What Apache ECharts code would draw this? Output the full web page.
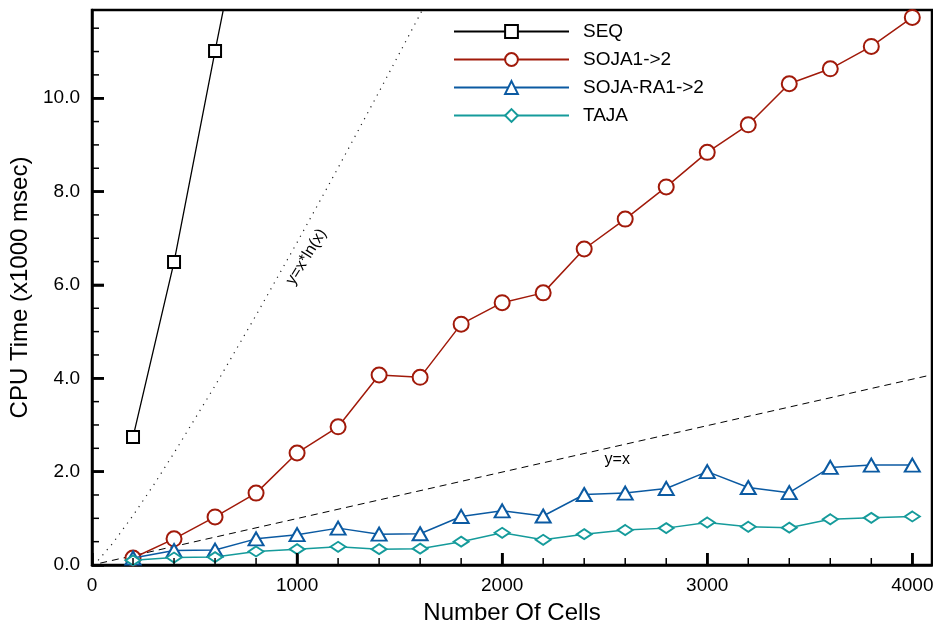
<!DOCTYPE html>
<html>
<head>
<meta charset="utf-8">
<script src="https://cdn.jsdelivr.net/npm/echarts@6/dist/echarts.min.js"></script>
<style>html,body{margin:0;padding:0;background:#fff;}#c{width:933px;height:627px;}</style>
</head>
<body>
<div id="c"></div>
<script>
// ---- data ----
var cells = [200,400,600,800,1000,1200,1400,1600,1800,2000,2200,2400,2600,2800,3000,3200,3400,3600,3800,4000];
var seqCells = [200,400,600,800];
var seqVals = [2.74,6.49,11.01,15.4];
var sojaVals = [0.15,0.56,1.03,1.54,2.40,2.96,4.07,4.02,5.16,5.62,5.83,6.77,7.41,8.10,8.84,9.43,10.31,10.63,11.11,11.73];
var sojaRaVals = [0.15,0.31,0.32,0.56,0.65,0.79,0.66,0.67,1.04,1.16,1.05,1.51,1.54,1.64,2.00,1.66,1.55,2.09,2.14,2.14];
var tajaVals = [0.10,0.16,0.17,0.29,0.34,0.39,0.34,0.35,0.50,0.69,0.54,0.66,0.75,0.79,0.91,0.82,0.80,0.98,1.01,1.04];
// reference lines
var linX = [40,4100];
var linY = [0.04,4.08];
var nlnX = [30,100,200,300,400,600,800,1000,1200,1400,1600,1700];
var nlnY = [0.10,0.46,1.06,1.71,2.40,3.84,5.35,6.91,8.51,10.14,11.80,12.65];
// tick steps
var xMajorStep = 1000, xMinorStep = 200;
var yMajorStep = 2, yMinorStep = 0.5;
var seriesNames = ['SEQ','SOJA1->2','SOJA-RA1->2','TAJA'];

var FF = '"Liberation Sans", Arial, sans-serif';
var RED = '#a11a0a', BLUE = '#0b5aa2', TEAL = '#159b9b';
var xMax = 4096, yMax = 11.89;

function zip(a,b){return a.map(function(v,i){return [v,b[i]];});}
function isMult(v, s){ var r = v / s; return Math.abs(r - Math.round(r)) < 1e-6; }

var chart = echarts.init(document.getElementById('c'));
chart.setOption({
  animation:false,
  backgroundColor:'#fff',
  textStyle:{fontFamily:FF},
  grid:{left:92, right:1, top:10, bottom:62, show:true, borderColor:'#000', borderWidth:2.5,
        containLabel:false, outerBoundsMode:'none'},
  legend:{
    data:seriesNames, orient:'vertical', left:448, top:17, itemWidth:115, itemHeight:16, itemGap:9,
    textStyle:{fontSize:19, color:'#000', padding:[0,0,0,9]}
  },
  xAxis:{type:'value', min:0, max:xMax, interval:xMajorStep, position:'bottom',
     name:'Number Of Cells', nameLocation:'middle', nameGap:36,
     nameTextStyle:{fontSize:24, color:'#000'},
     axisLine:{show:true, onZero:false, lineStyle:{color:'#000', width:2.5}},
     axisTick:{show:true, inside:true, length:12, lineStyle:{color:'#000', width:2.5}},
     axisLabel:{show:true, fontSize:19, color:'#000', margin:11, showMaxLabel:false,
       formatter:function(v){return isMult(v, xMajorStep) ? String(Math.round(v)) : '';}},
     splitLine:{show:false}},
  yAxis:{type:'value', min:0, max:yMax, interval:yMajorStep, position:'left',
     name:'CPU Time (x1000 msec)', nameLocation:'middle', nameGap:50,
     nameTextStyle:{fontSize:24, color:'#000'},
     axisLine:{show:true, onZero:false, lineStyle:{color:'#000', width:2.5}},
     axisTick:{show:true, inside:true, length:12, lineStyle:{color:'#000', width:2.5}},
     axisLabel:{show:true, fontSize:19, color:'#000', margin:12, showMaxLabel:false,
       formatter:function(v){return isMult(v, yMajorStep) ? v.toFixed(1) : '';}},
     splitLine:{show:false}},
  series:[
    {name:'y=x', type:'line', data:zip(linX,linY), showSymbol:false, silent:true, z:1,
     lineStyle:{color:'#000', width:1, type:[7,5]},
     markPoint:{symbol:'circle', symbolSize:1, itemStyle:{color:'rgba(0,0,0,0)'}, silent:true,
       data:[{coord:[2561,2.25], label:{show:true, position:'inside', formatter:'y=x', fontSize:16, color:'#000'}}]}},
    {name:'y=x*ln(x)', type:'line', data:zip(nlnX,nlnY), showSymbol:false, silent:true, z:1,
     lineStyle:{color:'#222', width:1.2, type:[1.2,5.5]},
     markPoint:{symbol:'circle', symbolSize:1, itemStyle:{color:'rgba(0,0,0,0)'}, silent:true,
       data:[{coord:[1045,6.6], label:{show:true, position:'inside', formatter:'y=x*ln(x)', fontSize:16, rotate:58, color:'#000'}}]}},
    {name:'SEQ', type:'line', data:zip(seqCells,seqVals), symbol:'emptyRect', symbolSize:12, z:3,
     itemStyle:{color:'#000', borderWidth:1.5}, lineStyle:{color:'#000', width:1.3}},
    {name:'SOJA1->2', type:'line', data:zip(cells,sojaVals), symbol:'emptyCircle', symbolSize:15, z:3,
     itemStyle:{color:RED, borderWidth:1.5}, lineStyle:{color:RED, width:1.5}},
    {name:'SOJA-RA1->2', type:'line', data:zip(cells,sojaRaVals), symbol:'emptyTriangle', symbolSize:[15,13], z:4,
     itemStyle:{color:BLUE, borderWidth:1.8}, lineStyle:{color:BLUE, width:1.5}},
    {name:'TAJA', type:'line', data:zip(cells,tajaVals), symbol:'emptyDiamond', symbolSize:[15,10], z:4,
     itemStyle:{color:TEAL, borderWidth:1.5}, lineStyle:{color:TEAL, width:1.5}}
  ]
});

// inward tick marks (major + minor), positioned through the chart's own axis scales
(function(){
  var elems = [], i, v, p, major, len, w;
  var finder = {xAxisIndex:0, yAxisIndex:0};
  var nx = Math.floor(xMax / xMinorStep + 1e-9);
  for (i = 1; i <= nx; i++) {
    v = i * xMinorStep; major = isMult(v, xMajorStep);
    p = chart.convertToPixel(finder, [v, 0]);
    len = major ? 12 : 7; w = major ? 2.5 : 1.5;
    elems.push({type:'line', silent:true, z:100,
      shape:{x1:p[0], y1:p[1], x2:p[0], y2:p[1] - len}, style:{stroke:'#000', lineWidth:w}});
  }
  var ny = Math.floor(yMax / yMinorStep + 1e-9);
  for (i = 1; i <= ny; i++) {
    v = i * yMinorStep; major = isMult(v, yMajorStep);
    p = chart.convertToPixel(finder, [0, v]);
    len = major ? 12 : 7; w = major ? 2.5 : 1.5;
    elems.push({type:'line', silent:true, z:100,
      shape:{x1:p[0], y1:p[1], x2:p[0] + len, y2:p[1]}, style:{stroke:'#000', lineWidth:w}});
  }
  chart.setOption({graphic:{elements:elems}});
})();
</script>
</body>
</html>
